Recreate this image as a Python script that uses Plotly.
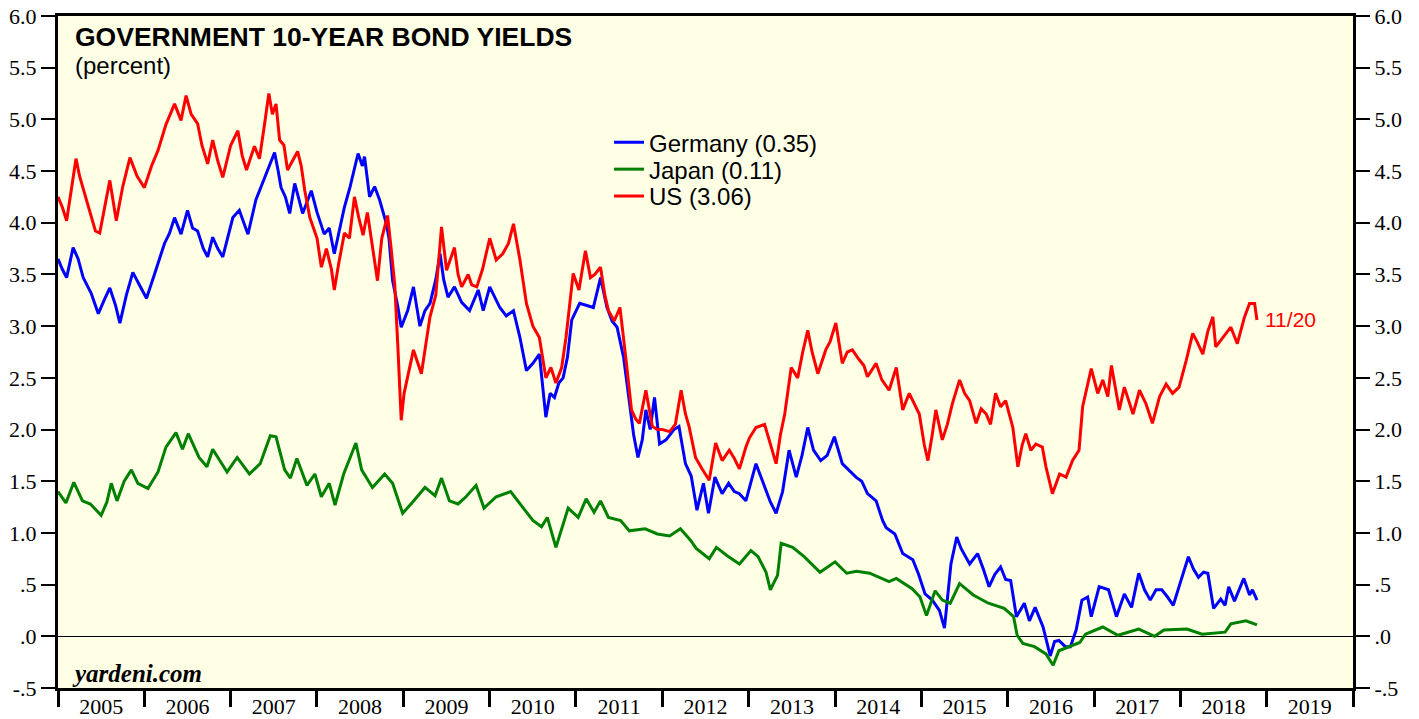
import numpy as np
import pandas as pd
import plotly.graph_objects as go

# ---------------- data (month offsets from Jan 2005, yields in percent) ----------------
us_m = [0, 0.6, 1.2, 2.5, 3.0, 3.7, 4.5, 5.2, 5.8, 6.5, 7.2, 8.1, 9.0, 10.0, 11.0, 12.0, 13.0, 13.9,
        15.0, 16.2, 17.1, 17.8, 18.5, 19.4, 20.0, 20.8, 21.5, 22.2, 22.9, 24.0, 25.0, 25.6, 26.2,
        27.3, 28.0, 28.7, 29.3, 29.8, 30.3, 30.8, 31.4, 31.9, 32.6, 33.3, 33.8, 34.3, 35.0, 36.0,
        36.6, 37.3, 38.0, 38.4, 39.0, 39.8, 40.5, 41.2, 41.8, 42.4, 43.0, 43.7, 44.4, 45.0, 45.8,
        46.3, 46.8, 47.2, 47.7, 48.1, 48.6, 49.4, 50.5, 51.2, 51.7, 52.5, 53.3, 54.0, 54.5, 55.1,
        55.6, 56.1, 57.0, 57.5, 58.2, 59.0, 60.0, 60.9, 61.8, 62.6, 63.3, 64.2, 65.1, 66.0, 66.9,
        67.4, 67.8, 68.5, 69.2, 70.0, 70.6, 71.6, 72.4, 73.3, 74.0, 74.6, 75.4, 76.0, 76.5, 77.3,
        78.1, 79.0, 79.7, 80.3, 80.8, 81.7, 82.6, 83.3, 84.0, 85.0, 85.8, 86.6, 87.2, 87.7, 88.6,
        89.5, 90.5, 91.4, 92.3, 93.3, 94.0, 94.7, 95.6, 96.1, 97.0, 98.2, 99.0, 99.8, 100.4, 101.0,
        101.9, 102.8, 103.5, 104.2, 104.8, 105.6, 106.7, 107.3, 108.1, 109.0, 109.7, 110.4, 111.3,
        112.0, 112.5, 113.7, 114.5, 115.5, 116.5, 117.4, 118.3, 119.0, 119.7, 120.4, 120.9, 121.5,
        122.0, 122.9, 123.6, 124.3, 125.3, 126.0, 126.7, 127.6, 128.3, 129.0, 129.6, 130.3, 131.0,
        131.7, 132.7, 133.4, 134.0, 134.5, 135.2, 135.9, 136.8, 137.3, 138.2, 139.2, 140.1, 141.0,
        141.9, 142.4, 142.9, 143.6, 144.5, 145.2, 145.9, 146.4, 147.5, 148.2, 149.4, 150.3, 151.2,
        152.1, 153.1, 154.0, 154.9, 155.8, 156.8, 157.7, 158.3, 159.1, 159.8, 160.5, 160.9, 161.9,
        163.0, 163.9, 164.9, 165.6, 166.3, 166.63]
us_v = [4.25, 4.15, 4.02, 4.62, 4.45, 4.28, 4.10, 3.92, 3.90, 4.15, 4.41, 4.02, 4.35, 4.63, 4.45, 4.34, 4.55, 4.70,
        4.95, 5.15, 4.99, 5.23, 5.05, 4.96, 4.75, 4.57, 4.80, 4.60, 4.44, 4.75, 4.89, 4.65, 4.51,
        4.74, 4.62, 4.95, 5.25, 5.05, 5.15, 4.80, 4.75, 4.51, 4.60, 4.69, 4.55, 4.31, 4.05, 3.85,
        3.57, 3.75, 3.55, 3.35, 3.60, 3.90, 3.85, 4.25, 4.05, 3.88, 4.10, 3.75, 3.44, 3.85, 4.07,
        3.75, 3.40, 2.85, 2.09, 2.35, 2.50, 2.77, 2.54, 2.85, 3.09, 3.30, 3.96, 3.54, 3.65, 3.76,
        3.50, 3.38, 3.50, 3.40, 3.38, 3.55, 3.85, 3.64, 3.70, 3.80, 3.99, 3.64, 3.22, 3.00, 2.89,
        2.65, 2.50, 2.60, 2.45, 2.60, 2.89, 3.51, 3.35, 3.73, 3.47, 3.50, 3.57, 3.30, 3.15, 3.05,
        3.18, 2.64, 2.19, 2.10, 2.06, 2.38, 2.03, 2.00, 2.00, 1.98, 2.05, 2.38, 2.15, 2.03, 1.73,
        1.62, 1.51, 1.87, 1.70, 1.80, 1.72, 1.62, 1.83, 1.92, 2.02, 2.05, 1.85, 1.67, 1.95, 2.15,
        2.60, 2.50, 2.75, 2.96, 2.75, 2.54, 2.77, 2.85, 3.03, 2.64, 2.75, 2.77, 2.68,
        2.62, 2.51, 2.64, 2.48, 2.38, 2.60, 2.19, 2.35, 2.25, 2.15, 1.85, 1.70, 1.95,
        2.19, 1.90, 2.05, 2.25, 2.48, 2.35, 2.28, 2.06, 2.20, 2.15, 2.05, 2.35, 2.22,
        2.28, 2.02, 1.64, 1.85, 1.96, 1.80, 1.86, 1.83, 1.64, 1.38, 1.57, 1.54, 1.70,
        1.80, 2.22, 2.38, 2.59, 2.35, 2.48, 2.32, 2.62, 2.19, 2.41, 2.15, 2.38, 2.25,
        2.06, 2.32, 2.44, 2.35, 2.41, 2.67, 2.93, 2.85, 2.73, 2.95, 3.09, 2.80, 2.89,
        2.99, 2.83, 3.09, 3.22, 3.22, 3.06]

de_m = [0, 0.6, 1.2, 2.1, 2.8, 3.5, 4.6, 5.6, 6.4, 7.2, 8.0, 8.6, 9.5, 10.4, 11.3, 12.3, 13.4, 14.8,
        15.5, 16.2, 17.1, 18.0, 18.7, 19.4, 20.2, 20.8, 21.5, 22.2, 22.9, 23.6, 24.3, 25.2, 26.4,
        27.5, 28.7, 29.4, 30.1, 30.6, 31.0, 31.6, 32.2, 32.9, 34.0, 35.2, 36.0, 37.0, 37.7, 38.4,
        39.2, 39.8, 40.6, 41.3, 41.7, 42.3, 42.6, 43.3, 44.0, 44.7, 45.6, 46.0, 46.5, 47.2, 47.7,
        48.6, 49.4, 50.3, 51.0, 51.7, 52.5, 53.1, 53.6, 54.2, 55.1, 56.1, 57.2, 58.4, 59.1, 60.0,
        61.4, 62.3, 63.3, 64.2, 64.7, 65.1, 66.0, 66.9, 67.8, 68.4, 69.0, 69.6, 70.2, 70.8, 71.4,
        72.5, 73.5, 74.4, 75.4, 76.3, 77.0, 77.7, 78.6, 79.5, 80.0, 80.6, 81.2, 81.7, 82.3, 82.9,
        83.6, 84.5, 85.6, 86.3, 87.2, 88.0, 88.8, 89.7, 90.4, 91.3, 92.3, 93.2, 94.0, 94.7, 95.6,
        97.0, 98.2, 99.0, 99.8, 100.7, 101.6, 102.6, 103.4, 104.2, 105.0, 106.0, 106.9, 107.9,
        109.0, 110.0, 110.9, 111.7, 112.5, 113.7, 114.6, 115.1, 116.3, 117.4, 118.8, 119.6, 120.5,
        121.5, 122.5, 123.2, 124.1, 124.9, 125.5, 126.7, 127.8, 128.6, 129.4, 130.2, 131.0, 131.7,
        132.4, 133.2, 134.3, 135.0, 135.8, 136.9, 137.9, 138.5, 139.1, 140.0, 140.7, 141.5, 142.3,
        143.1, 143.6, 144.7, 146.0, 147.1, 148.2, 149.2, 150.2, 151.0, 151.8, 152.6, 153.4, 154.2,
        155.0, 155.8, 157.1, 157.8, 158.5, 159.2, 159.8, 160.6, 161.6, 162.2, 162.7, 163.5, 164.2,
        164.8, 165.6, 166.0, 166.63]
de_v = [3.65, 3.55, 3.47, 3.76, 3.65, 3.47, 3.32, 3.12, 3.25, 3.37, 3.20, 3.03, 3.30, 3.52, 3.40, 3.27, 3.50, 3.80,
        3.90, 4.05, 3.89, 4.12, 3.95, 3.92, 3.75, 3.67, 3.86, 3.75, 3.67, 3.85, 4.05, 4.12, 3.89,
        4.22, 4.44, 4.55, 4.68, 4.50, 4.34, 4.25, 4.09, 4.38, 4.09, 4.31, 4.10, 3.89, 3.95, 3.70,
        3.95, 4.15, 4.35, 4.55, 4.67, 4.55, 4.64, 4.25, 4.35, 4.22, 4.00, 3.85, 3.44, 3.20, 2.99,
        3.15, 3.38, 3.00, 3.15, 3.22, 3.45, 3.70, 3.45, 3.28, 3.38, 3.23, 3.15, 3.35, 3.15, 3.38,
        3.18, 3.10, 3.15, 2.89, 2.70, 2.57, 2.64, 2.73, 2.12, 2.35, 2.31, 2.45, 2.50, 2.70, 3.06,
        3.22, 3.20, 3.18, 3.47, 3.18, 3.05, 2.99, 2.70, 2.25, 1.95, 1.73, 1.90, 2.19, 2.00, 2.31,
        1.86, 1.90, 2.00, 2.03, 1.67, 1.55, 1.22, 1.48, 1.19, 1.54, 1.38, 1.48, 1.40, 1.38, 1.31,
        1.67, 1.44, 1.30, 1.19, 1.40, 1.80, 1.54, 1.75, 2.02, 1.80, 1.70, 1.75, 1.93,
        1.67, 1.60, 1.54, 1.50, 1.38, 1.31, 1.12, 1.05, 0.99, 0.80, 0.74, 0.60, 0.41,
        0.35, 0.25, 0.08, 0.70, 0.96, 0.85, 0.70, 0.80, 0.65, 0.48, 0.60, 0.67, 0.55,
        0.54, 0.19, 0.32, 0.15, 0.28, 0.09, -0.19, -0.05, -0.04, -0.10, -0.10, 0.06, 0.35,
        0.38, 0.19, 0.48, 0.45, 0.19, 0.41, 0.28, 0.61, 0.45, 0.35, 0.45, 0.45, 0.38,
        0.30, 0.48, 0.77, 0.65, 0.57, 0.62, 0.61, 0.27, 0.36, 0.30, 0.48, 0.34, 0.45,
        0.56, 0.40, 0.45, 0.35]

jp_m = [0, 1.1, 2.2, 3.4, 4.5, 6.0, 6.8, 7.4, 8.2, 9.2, 10.2, 11.1, 12.5, 13.9, 15.0, 16.4, 17.3, 18.1,
        19.6, 20.7, 21.5, 22.7, 23.5, 24.9, 26.6, 28.1, 29.5, 30.3, 31.5, 32.3, 33.2, 34.6, 35.7,
        36.6, 37.7, 38.5, 39.7, 41.4, 42.2, 43.7, 45.4, 46.5, 47.9, 49.3, 51.0, 52.4, 53.3, 54.4,
        55.6, 56.7, 58.1, 59.2, 60.9, 62.9, 64.6, 66.0, 67.2, 68.0, 69.2, 70.0, 70.9, 72.3, 73.4,
        74.5, 75.4, 76.5, 78.2, 79.4, 81.6, 83.3, 85.0, 86.5, 87.9, 88.7, 90.5, 91.5, 93.0, 94.7,
        96.3, 97.3, 98.4, 99.0, 100.0, 100.5, 102.1, 103.7, 105.9, 108.0, 109.6, 111.0, 112.8,
        115.5, 116.5, 118.7, 119.8, 120.7, 121.9, 122.9, 124.0, 125.3, 127.2, 129.3, 131.5, 132.8,
        133.3, 134.1, 135.7, 137.3, 138.3, 139.1, 140.9, 142.0, 142.8, 145.2, 147.3, 150.2, 152.4,
        153.7, 156.9, 159.0, 162.2, 163.0, 165.1, 166.63]
jp_v = [1.40, 1.29, 1.49, 1.31, 1.28, 1.17, 1.30, 1.48, 1.31, 1.50, 1.61, 1.48, 1.43, 1.59, 1.83, 1.97, 1.81, 1.96,
        1.73, 1.64, 1.81, 1.67, 1.59, 1.73, 1.57, 1.67, 1.94, 1.93, 1.61, 1.53, 1.72, 1.46, 1.57,
        1.35, 1.48, 1.27, 1.57, 1.87, 1.61, 1.44, 1.57, 1.48, 1.19, 1.30, 1.44, 1.36, 1.53, 1.31,
        1.28, 1.35, 1.46, 1.24, 1.35, 1.40, 1.25, 1.12, 1.06, 1.15, 0.86, 1.05, 1.24, 1.15, 1.33,
        1.20, 1.31, 1.15, 1.12, 1.02, 1.04, 0.99, 0.97, 1.04, 0.93, 0.85, 0.75, 0.86, 0.78, 0.70,
        0.83, 0.77, 0.62, 0.45, 0.59, 0.90, 0.86, 0.77, 0.62, 0.72, 0.61, 0.63, 0.61,
        0.53, 0.56, 0.46, 0.38, 0.20, 0.44, 0.35, 0.32, 0.51, 0.40, 0.32, 0.27, 0.19,
        0.01, -0.07, -0.10, -0.17, -0.28, -0.14, -0.09, -0.06, 0.02, 0.09, 0.01, 0.07, 0.00,
        0.06, 0.07, 0.02, 0.04, 0.12, 0.15, 0.11]

series_names = ["Germany (0.35)", "Japan (0.11)", "US (3.06)"]
series_colors = ["#0000FF", "#008000", "#FF0000"]

ytick_vals = [-0.5, 0.0, 0.5, 1.0, 1.5, 2.0, 2.5, 3.0, 3.5, 4.0, 4.5, 5.0, 5.5, 6.0]
ytick_text = ["-.5", ".0", ".5", "1.0", "1.5", "2.0", "2.5", "3.0", "3.5", "4.0", "4.5", "5.0", "5.5", "6.0"]
x_range = ["2005-01-01", "2020-01-01"]
y_range = [-0.5, 6.0]
last_date_label = "11/20"


def to_dates(months):
    return pd.Timestamp("2005-01-01") + pd.to_timedelta(np.asarray(months) * 30.4375, unit="D")


SERIF = "Liberation Serif"
SANS = "Liberation Sans"

fig = go.Figure()
legend_ids = ["legend", "legend2", "legend3"]
for (m, v), name, col, lg in zip([(de_m, de_v), (jp_m, jp_v), (us_m, us_v)],
                                 series_names, series_colors, legend_ids):
    fig.add_trace(go.Scatter(x=to_dates(m), y=v, name=name, mode="lines", legend=lg,
                             line=dict(color=col, width=3)))

# invisible trace to activate the secondary (tick) axes
fig.add_trace(go.Scatter(x=x_range, y=y_range, xaxis="x2", yaxis="y2", mode="lines",
                         line=dict(width=0), opacity=0, showlegend=False, hoverinfo="skip"))

us_dates = to_dates(us_m)
fig.add_annotation(x=us_dates[-1], y=us_v[-1], text=last_date_label, showarrow=False,
                   xanchor="left", yanchor="middle", xshift=6,
                   font=dict(family=SANS, size=21, color="#FF0000"))

fig.add_annotation(xref="paper", yref="paper", x=0.0116, y=0.969, xanchor="left", yanchor="middle",
                   text="<b>GOVERNMENT 10-YEAR BOND YIELDS</b>", showarrow=False,
                   font=dict(family=SANS, size=26.5, color="black"))
fig.add_annotation(xref="paper", yref="paper", x=0.0116, y=0.926, xanchor="left", yanchor="middle",
                   text="(percent)", showarrow=False,
                   font=dict(family=SANS, size=24, color="black"))
fig.add_annotation(xref="paper", yref="paper", x=0.009, y=0.021, xanchor="left", yanchor="middle",
                   text="<b><i>yardeni.com</i></b>", showarrow=False,
                   font=dict(family=SERIF, size=25, color="black"))

tickfont = dict(family=SERIF, size=22, color="black")
yax_common = dict(range=y_range, tickvals=ytick_vals, ticktext=ytick_text, ticks="outside",
                  ticklen=14, tickwidth=2, tickcolor="black", showline=True, linewidth=3,
                  linecolor="black", showgrid=False, tickfont=tickfont, fixedrange=True,
                  automargin=False)

leg_common = dict(x=0.4255, xanchor="left", yanchor="middle", bgcolor="rgba(0,0,0,0)",
                  font=dict(family=SANS, size=24, color="black"), borderwidth=0)

fig.update_layout(
    width=1419, height=719,
    margin=dict(l=58, r=66, t=16, b=31, pad=0, autoexpand=False),
    paper_bgcolor="white",
    plot_bgcolor="#FFFFE6",
    showlegend=True,
    legend=dict(**leg_common, y=0.8115),
    legend2=dict(**leg_common, y=0.7715),
    legend3=dict(**leg_common, y=0.7315),
    xaxis=dict(type="date", range=x_range, tick0="2005-01-01", dtick="M12", tickformat="%Y",
               ticklabelmode="period", ticks="", showline=True, linewidth=3, linecolor="black",
               mirror=True, showgrid=False, zeroline=False, tickfont=tickfont,
               ticklabelstandoff=-3, automargin=False),
    xaxis2=dict(type="date", range=x_range, tick0="2005-01-01", dtick="M12", overlaying="x",
                side="bottom", anchor="y", ticks="outside", ticklen=18, tickwidth=3,
                tickcolor="black", showticklabels=False, showline=False, showgrid=False,
                zeroline=False, automargin=False),
    yaxis=dict(**yax_common, zeroline=True, zerolinecolor="black", zerolinewidth=1.3),
    yaxis2=dict(**yax_common, overlaying="y", side="right", anchor="x", zeroline=False),
)

# remove the default 8px page margin so the 1419x719 figure fills the window exactly
fig.write_html("out.html", config={"displayModeBar": False},
               post_script="document.body.style.margin='0';document.body.style.overflow='hidden';")
